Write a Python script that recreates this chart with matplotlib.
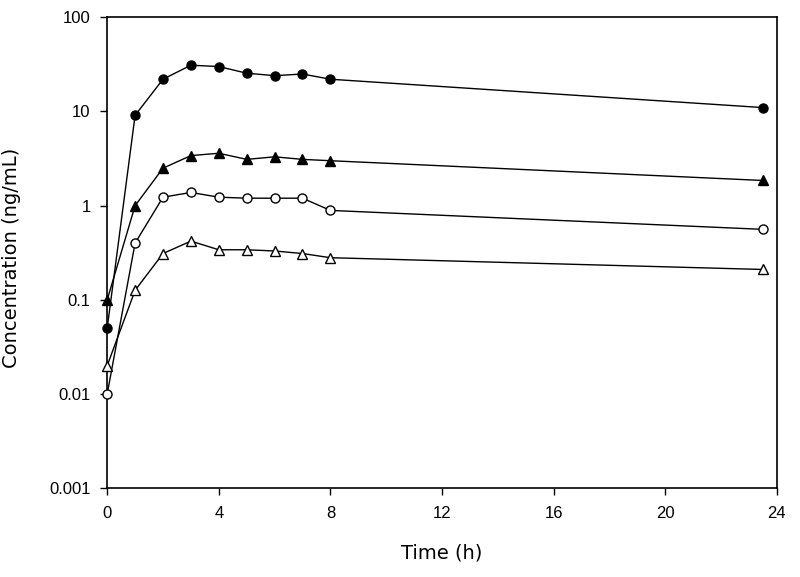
import numpy as np
import matplotlib.pyplot as plt
from matplotlib.ticker import FixedLocator, NullLocator

plt.rcParams['font.family'] = ['Liberation Sans', 'DejaVu Sans']

time_h = [0, 1, 2, 3, 4, 5, 6, 7, 8, 23.5]

filled_circle = [0.05, 9.1, 22, 31, 30, 25.5, 24, 25, 22, 11]
filled_triangle = [0.1, 1.0, 2.5, 3.4, 3.6, 3.1, 3.3, 3.1, 3.0, 1.85]
open_circle = [0.01, 0.4, 1.23, 1.38, 1.23, 1.2, 1.2, 1.2, 0.89, 0.56]
open_triangle = [0.02, 0.126, 0.31, 0.42, 0.34, 0.34, 0.33, 0.31, 0.28, 0.21]

y_ticks = [0.001, 0.01, 0.1, 1, 10, 100]
y_labels = ["0.001", "0.01", "0.1", "1", "10", "100"]
x_ticks = [0, 4, 8, 12, 16, 20, 24]

fig = plt.figure(figsize=(8, 5.77), dpi=100)
ax = fig.add_axes([0.134, 0.154, 0.837, 0.816])

ax.plot(time_h, filled_circle, '-o', color='black', mfc='black', ms=6.5, lw=1, clip_on=False, zorder=3)
ax.plot(time_h, filled_triangle, '-^', color='black', mfc='black', ms=7, lw=1, clip_on=False, zorder=3)
ax.plot(time_h, open_circle, '-o', color='black', mfc='white', ms=6.5, lw=1, clip_on=False, zorder=3)
ax.plot(time_h, open_triangle, '-^', color='black', mfc='white', ms=7, lw=1, clip_on=False, zorder=3)

ax.set_yscale('log')
ax.set_ylim(0.001, 100)
ax.set_xlim(0, 24)
ax.yaxis.set_major_locator(FixedLocator(y_ticks))
ax.yaxis.set_minor_locator(NullLocator())
ax.set_yticklabels(y_labels)
ax.set_xticks(x_ticks)

ax.tick_params(direction='out', length=5, width=1, labelsize=12, colors='black')
ax.tick_params(axis='x', pad=8)
ax.tick_params(axis='y', pad=7)
for s in ax.spines.values():
    s.set_linewidth(1.2)

ax.set_xlabel('Time (h)', fontsize=14, family='DejaVu Sans')
ax.set_ylabel('Concentration (ng/mL)', fontsize=14, family='DejaVu Sans')
ax.xaxis.set_label_coords(0.5, -0.117)
ax.yaxis.set_label_coords(-0.128, 0.49)

fig.savefig('out.png', dpi=100)
